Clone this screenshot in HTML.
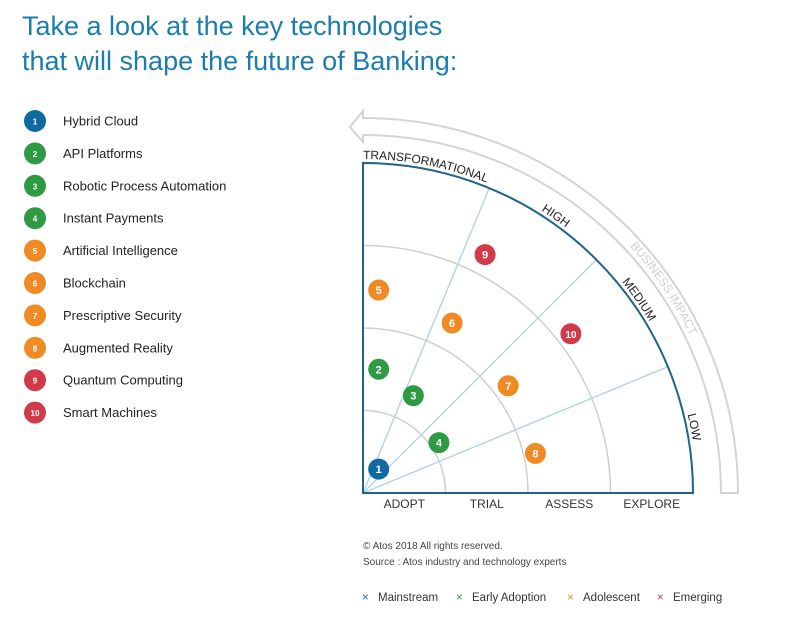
<!DOCTYPE html>
<html><head><meta charset="utf-8"><style>
body{margin:0;background:#fff;font-family:"Liberation Sans",sans-serif;}
svg{display:block}
</style></head><body>
<svg width="798" height="623" viewBox="0 0 798 623">
<text x="22" y="35" font-size="27" fill="#1b7dae" font-weight="300">Take a look at the key technologies</text>
<text x="22" y="70" font-size="27" fill="#1b7dae" font-weight="300">that will shape the future of Banking:</text>
<g id="legend"></g>
<g id="chart"></g>
<text x="363" y="549" font-size="10" fill="#444">© Atos 2018 All rights reserved.</text>
<text x="363" y="565" font-size="10" fill="#444">Source : Atos industry and technology experts</text>
<g font-size="11.5">
<text x="362" y="601" fill="#1c6fa5">×</text><text x="378" y="601" fill="#333">Mainstream</text>
<text x="456" y="601" fill="#2f9a44">×</text><text x="472" y="601" fill="#333">Early Adoption</text>
<text x="567" y="601" fill="#f08a24">×</text><text x="583" y="601" fill="#333">Adolescent</text>
<text x="657" y="601" fill="#d13a4a">×</text><text x="673" y="601" fill="#333">Emerging</text>
</g>
</svg>
<script>
const names=["Hybrid Cloud","API Platforms","Robotic Process Automation","Instant Payments","Artificial Intelligence","Blockchain","Prescriptive Security","Augmented Reality","Quantum Computing","Smart Machines"];
const stage=[0,1,1,1,2,2,2,2,3,3];
const maturity=[0.19,0.19,0.61,0.92,0.19,1.08,1.76,2.09,1.48,2.52];
const impact=[0.29,1.50,1.18,0.61,2.46,2.06,1.30,0.48,2.89,1.93];
const rings=["ADOPT","TRIAL","ASSESS","EXPLORE"];
const impactLabels=["TRANSFORMATIONAL","HIGH","MEDIUM","LOW"];
const colors=["#0f6aa3","#2f9a44","#f08a24","#d13a4a"];
const NS="http://www.w3.org/2000/svg";
const ox=363,oy=493,R=330,U=R/4;
const sx=v=>ox+v*U, sy=v=>oy-v*U;
function mk(t,a,p){const e=document.createElementNS(NS,t);for(const k in a)e.setAttribute(k,a[k]);(p||document.getElementById('chart')).appendChild(e);return e;}
const lg=document.getElementById('legend');
names.forEach((n,i)=>{const y=121+32.4*i;
 const c=mk('circle',{cx:35,cy:y,r:11,fill:colors[stage[i]]},lg);
 
 
 const t1=mk('text',{x:35,y:y+3.5,'font-size':8,'font-weight':'bold',fill:'#fff','text-anchor':'middle'},lg);t1.textContent=i+1;
 
 
 const t=mk('text',{x:63,y:y+4.5,'font-size':13,fill:'#222'},lg);t.textContent=n;
 
 
});
const ch=document.getElementById('chart');
// business impact arrow
const r1=358,r2=375;
const ar=mk('path',{d:`M${ox} ${oy-r1} A${r1} ${r1} 0 0 1 ${ox+r1} ${oy} L${ox+r2} ${oy} A${r2} ${r2} 0 0 0 ${ox} ${oy-r2} L${ox} ${oy-r2-7} L350 ${oy-366} L${ox} ${oy-r1+7} Z`,fill:'none',stroke:'#d4d4d4','stroke-width':2});


mk('path',{id:'bip',d:`M${ox-40} ${oy-362} A362 362 0 0 1 ${ox+362} ${oy}`,fill:'none'});
const bt=mk('text',{'font-size':12,fill:'#d0d0d0'});


const btp=mk('textPath',{href:'#bip',startOffset:'340'},bt);btp.textContent='BUSINESS IMPACT';
// rings
for(let k=1;k<4;k++){const r=k*U;const a=mk('path',{d:`M${ox} ${oy-r} A${r} ${r} 0 0 1 ${ox+r} ${oy}`,fill:'none',stroke:'#cfcfcf','stroke-width':1.5});
 
 }
[22.5,45,67.5].forEach((d,i)=>{const a=d*Math.PI/180;const l=mk('line',{x1:ox,y1:oy,x2:ox+R*Math.cos(a),y2:oy-R*Math.sin(a),stroke:'#b9d6e3','stroke-width':1.5});
 
 });
const fr=mk('path',{d:`M${ox} ${oy} L${ox} ${oy-R} A${R} ${R} 0 0 1 ${ox+R} ${oy} Z`,fill:'none',stroke:'#1f6488','stroke-width':2});


mk('path',{id:'ip',d:`M${ox} ${oy-334} A334 334 0 0 1 ${ox+334} ${oy}`,fill:'none'});
const offs=[0,188,296,445];
impactLabels.forEach((s,i)=>{const t=mk('text',{'font-size':12,fill:'#222'});
 
 
 const p=mk('textPath',{href:'#ip',startOffset:offs[i]},t);p.textContent=s;});
rings.forEach((s,i)=>{const t=mk('text',{x:ox+(i+0.5)*U,y:oy+15,'font-size':12,fill:'#333','text-anchor':'middle'});t.textContent=s;
 
 });
names.forEach((n,i)=>{const x=sx(maturity[i]),y=sy(impact[i]);
 const c=mk('circle',{cx:x,cy:y,r:10.5,fill:colors[stage[i]]});
 
 
 const t=mk('text',{x:x,y:y+4,'font-size':i==9?10:11,'font-weight':'bold',fill:'#fff','text-anchor':'middle'});t.textContent=i+1;
 
 });
</script>
</body></html>
